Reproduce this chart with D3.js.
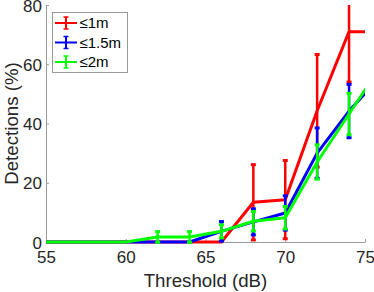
<!DOCTYPE html>
<html>
<head>
<meta charset="utf-8">
<script src="https://cdn.jsdelivr.net/npm/d3@7"></script>
<style>
  body { margin: 0; background: #fff; }
  svg { display: block; font-family: "Liberation Sans", Arial, sans-serif; }
</style>
</head>
<body>
<svg id="chart"></svg>
<script>
// thresholds (dB), the first and last are outside the axis and get clipped
const thresholds = [54, 56, 58, 60, 62, 64, 66, 68, 70, 72, 74, 76];

const series = ['≤1m', '≤1.5m', '≤2m'];
const colors = ['#ff0000', '#0000ff', '#00ff00'];

const det1m   = [0, 0, 0, 0, 0,   0,   0,   13.4, 14.3, 44.3, 71,   71];
const err1m   = [0, 0, 0, 0, 0,   0,   0,   12.7, 13.2, 19,   17,   17];
const det15m  = [0, 0, 0, 0, 0,   0,   3.6, 6.8,  9.8,  30,   44.2, 56];
const err15m  = [0, 0, 0, 0, 0,   0,   3.3, 4.4,  5.8,  8.5,  9,    0];
const det2m   = [0, 0, 0, 0, 1.7, 1.7, 3.6, 7,    8.2,  27,   43.2, 59.5];
const err2m   = [0, 0, 0, 0, 1.8, 1.8, 2.2, 3.3,  3.8,  5.8,  7,    0];

const xTicks = [55, 60, 65, 70, 75];
const yTicks = [0, 20, 40, 60, 80];

const values = [det1m, det15m, det2m];
const errors = [err1m, err15m, err2m];

const w = 374, h = 292;
const m = { left: 46, right: 365, top: 5, bottom: 242 };

const svg = d3.select('#chart').attr('width', w).attr('height', h);

const x = d3.scaleLinear().domain([55, 75]).range([m.left, m.right]);
const y = d3.scaleLinear().domain([0, 80]).range([m.bottom, m.top]);

// axes (inward ticks, no box)
const xAxis = d3.axisBottom(x).tickValues(xTicks).tickSizeInner(-3).tickSizeOuter(0).tickPadding(9);
const yAxis = d3.axisLeft(y).tickValues(yTicks).tickSizeInner(-3).tickSizeOuter(0).tickPadding(4);

const gx = svg.append('g').attr('transform', `translate(0,${m.bottom})`).call(xAxis);
const gy = svg.append('g').attr('transform', `translate(${m.left},0)`).call(yAxis);
[gx, gy].forEach(g => {
  g.select('.domain').attr('stroke', '#9a9a9a').attr('stroke-width', 1);
  g.selectAll('.tick line').attr('stroke', '#9a9a9a');
  g.selectAll('.tick text').attr('fill', '#262626').attr('font-size', 17)
    .attr('font-family', '"Liberation Sans", Arial, sans-serif');
});
gy.selectAll('.tick text').attr('dy', '0.36em');

// axis labels
svg.append('text')
  .attr('x', (m.left + m.right) / 2).attr('y', 287)
  .attr('text-anchor', 'middle').attr('font-size', 18.7).attr('fill', '#262626')
  .text('Threshold (dB)');
svg.append('text')
  .attr('transform', `translate(18,${(m.top + m.bottom) / 2}) rotate(-90)`)
  .attr('text-anchor', 'middle').attr('font-size', 18.7).attr('fill', '#262626')
  .text('Detections (%)');

// clip to plot area
svg.append('clipPath').attr('id', 'clip')
  .append('rect').attr('x', m.left).attr('y', m.top)
  .attr('width', m.right - m.left).attr('height', m.bottom - m.top + 4);

const plot = svg.append('g').attr('clip-path', 'url(#clip)');

const line = d3.line().x(d => x(d.t)).y(d => y(d.v));

values.forEach((vals, s) => {
  const pts = thresholds.map((t, i) => ({ t, v: vals[i], e: errors[s][i] }));
  const g = plot.append('g');

  g.append('path').datum(pts)
    .attr('d', line)
    .attr('fill', 'none')
    .attr('stroke', colors[s])
    .attr('stroke-width', 3)
    .attr('stroke-linejoin', 'round');

  const bars = g.selectAll('.eb').data(pts.filter(d => d.e > 0)).join('g');
  bars.append('line')
    .attr('x1', d => x(d.t)).attr('x2', d => x(d.t))
    .attr('y1', d => y(d.v - d.e)).attr('y2', d => y(d.v + d.e))
    .attr('stroke', colors[s]).attr('stroke-width', 2.5);
  [-1, 1].forEach(sign => {
    bars.append('line')
      .attr('x1', d => x(d.t) - 2.5).attr('x2', d => x(d.t) + 2.5)
      .attr('y1', d => y(d.v + sign * d.e)).attr('y2', d => y(d.v + sign * d.e))
      .attr('stroke', colors[s]).attr('stroke-width', 3);
  });
});

// legend
const lg = svg.append('g');
lg.append('rect')
  .attr('x', 52.5).attr('y', 12.5).attr('width', 75).attr('height', 60)
  .attr('fill', '#fff').attr('stroke', '#9a9a9a').attr('stroke-width', 1);
series.forEach((name, s) => {
  const ly = 23 + s * 19.5;
  lg.append('line').attr('x1', 55).attr('x2', 77).attr('y1', ly).attr('y2', ly)
    .attr('stroke', colors[s]).attr('stroke-width', 2);
  lg.append('line').attr('x1', 66).attr('x2', 66).attr('y1', ly - 6).attr('y2', ly + 6)
    .attr('stroke', colors[s]).attr('stroke-width', 2);
  [-6, 6].forEach(o => {
    lg.append('line').attr('x1', 63.5).attr('x2', 68.5).attr('y1', ly + o).attr('y2', ly + o)
      .attr('stroke', colors[s]).attr('stroke-width', 1.5);
  });
  lg.append('text').attr('x', 79.5).attr('y', ly).attr('dy', '0.36em')
    .attr('font-size', 15).attr('fill', '#000').text(name);
});
</script>
</body>
</html>
